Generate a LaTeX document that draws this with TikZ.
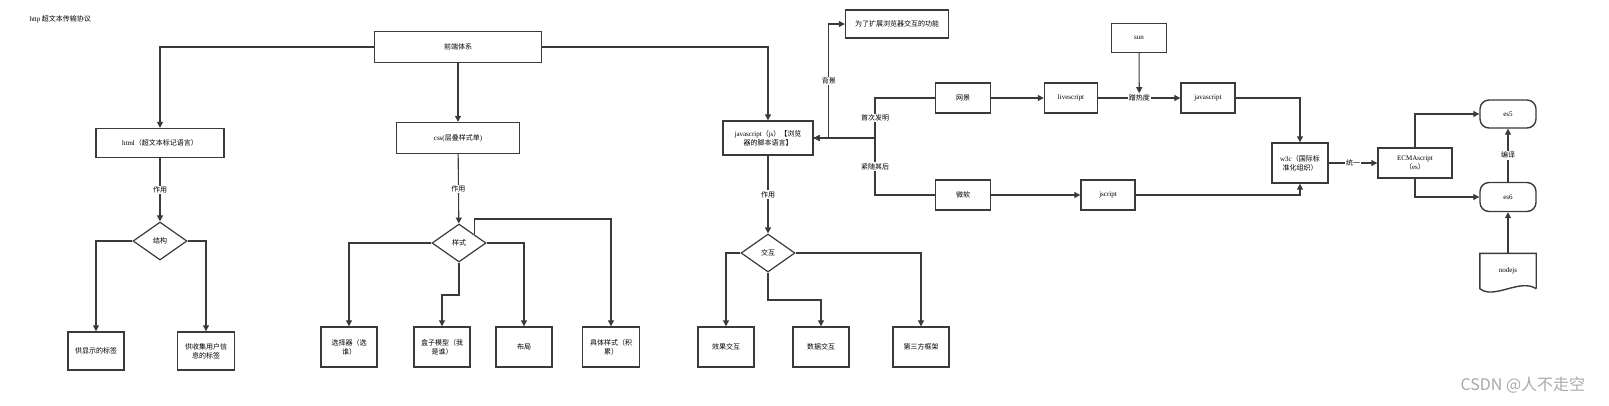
\documentclass[tikz,border=0pt]{standalone}
\usepackage{fontspec}
\setmainfont{Liberation Serif}
\newfontfamily\cjk{Noto Sans CJK SC}
\usetikzlibrary{shapes.geometric,arrows.meta,calc}
\definecolor{lnc}{HTML}{3A3A3A}
\definecolor{wm}{HTML}{A8A8A8}
\newcommand{\latn}[1]{{\rmfamily #1}}

\begin{document}
\begin{tikzpicture}[x=1pt,y=-1pt,
  every node/.style={font=\cjk\fontsize{7}{9}\selectfont},
  box/.style={draw=lnc,line width=1.4pt,fill=white,align=center,inner sep=1pt},
  sz/.style 2 args={minimum width=#1pt,minimum height=#2pt},
  dec/.style={draw=lnc,line width=1.2pt,diamond,fill=white,minimum width=54pt,minimum height=38pt,inner sep=0pt},
  term/.style={box,rounded corners=9pt},
  lbl/.style={fill=white,inner sep=1pt},
  wire/.style={draw=lnc,line width=1.1pt},
  arr/.style={wire,-{Triangle[length=6pt,width=6pt]}}]
\useasboundingbox (0,0) rectangle (1609,405);

\node[anchor=west] (title) at (26,19) {\latn{http}\ 超文本传输协议};

% front end
\node[box,sz={167}{31}] (top) at (458,47) {前端体系};
\node[box,sz={128}{29}] (html) at (160,143) {\latn{html}（超文本标记语言）};
\node[box,sz={123}{31}] (css) at (458,138) {\latn{css(}层叠样式单\latn{)}};
\node[box,sz={90}{34}] (js) at (768,138) {\latn{javascript}（\latn{js}）【浏览\\器的脚本语言】};

% html
\node[dec] (struct) at (160,241) {结构};
\node[box,sz={56}{38}] (show) at (96,351) {供显示的标签};
\node[box,sz={57}{38}] (collect) at (206,351) {供收集用户信\\息的标签};

% css
\node[dec] (sty) at (459,243) {样式};
\node[box,sz={56}{40}] (sel) at (349,347) {选择器（选\\谁）};
\node[box,sz={56}{40}] (boxm) at (442,347) {盒子模型（我\\是谁）};
\node[box,sz={56}{40}] (layout) at (524,347) {布局};
\node[box,sz={57}{40}] (spec) at (611,347) {具体样式（积\\累）};

% js
\node[dec] (inter) at (768,253) {交互};
\node[box,sz={56}{40}] (effect) at (726,347) {效果交互};
\node[box,sz={56}{40}] (data) at (821,347) {数据交互};
\node[box,sz={56}{40}] (third) at (921,347) {第三方框架};

% history
\node[box,sz={103}{28}] (goal) at (897,24) {为了扩展浏览器交互的功能};
\node[box,sz={55}{30}] (ns) at (963,98) {网景};
\node[box,sz={55}{30}] (ms) at (963,195) {微软};
\node[box,sz={53}{30}] (live) at (1071,98) {\latn{livescript}};
\node[box,sz={54}{30}] (jscr) at (1108,195) {\latn{jscript}};
\node[box,sz={55}{29}] (sun) at (1139,38) {\latn{sun}};
\node[box,sz={54}{30}] (java) at (1208,98) {\latn{javascript}};
\node[box,sz={56}{40}] (w3c) at (1300,163) {\latn{w3c}（国际标\\准化组织）};
\node[box,sz={74}{30}] (ecma) at (1415,163) {\latn{ECMAscript}\\（\latn{es}）};
\node[term,sz={56}{28}] (esv) at (1508,114) {\latn{es5}};
\node[term,sz={56}{29}] (ess) at (1508,197) {\latn{es6}};
\node[sz={56}{35}] (nodejs) at (1508,271) {\latn{nodejs}};
\draw[wire,line width=1.4pt] (nodejs.south east) -- (nodejs.north east) -- (nodejs.north west)
  -- (nodejs.south west) .. controls (1494,300) and (1520,278) .. (nodejs.south east);

\node[anchor=west,text=wm,font=\cjk\fontsize{16}{18}\selectfont] (mark) at (1457,385) {CSDN @人不走空};

\draw[arr] (top.west) -| (html.north);
\draw[arr] (top) -- (css);
\draw[arr] (top.east) -| (js.north);

\draw[arr] (html) -- node[lbl] {作用} (struct);
\draw[arr] (struct.west) -| (show.north);
\draw[arr] (struct.east) -| (collect.north);

\draw[arr] (css) -- node[lbl] {作用} (sty);
\draw[arr] (sty.west) -| (sel.north);
\draw[arr] (sty.south) -- (sty.south |- 0,295) -| (boxm.north);
\draw[arr] (sty.east) -| (layout.north);
\coordinate (sk) at ($(sty.north)!0.55!(sty.east)$);
\draw[arr] (sk) -- (sk |- 0,219) -| (spec.north);

\draw[arr] (js) -- node[lbl] {作用} (inter);
\draw[arr] (inter.west) -| (effect.north);
\draw[arr] (inter.south) -- (inter.south |- 0,300) -| (data.north);
\draw[arr] (inter.east) -| (third.north);

\coordinate (jn) at (875,138);
\draw[arr] (js.east) -| node[lbl,pos=.75] {背景} ($(goal.west)+(-16,0)$) -- (goal.west);
\draw[arr] (ns.west) -| node[lbl,pos=.75] {首次发明} (jn) -- (js.east);
\draw[arr] (ms.west) -| node[lbl,pos=.75] {紧随其后} (jn) -- (js.east);
\draw[arr] (ns) -- (live);
\draw[arr] (live) -- node[lbl] (hot) {蹭热度} (java);
\draw[arr] (sun) -- (hot);
\draw[arr] (ms) -- (jscr);
\draw[arr] (java.east) -| (w3c.north);
\draw[arr] (jscr.east) -| (w3c.south);
\draw[arr] (w3c) -- node[lbl] {统一} (ecma);
\draw[arr] (ecma.north) |- (esv.west);
\draw[arr] (ecma.south) |- (ess.west);
\draw[arr] (ess) -- node[lbl] {编译} (esv);
\draw[arr] (nodejs) -- (ess);
\end{tikzpicture}
\end{document}
